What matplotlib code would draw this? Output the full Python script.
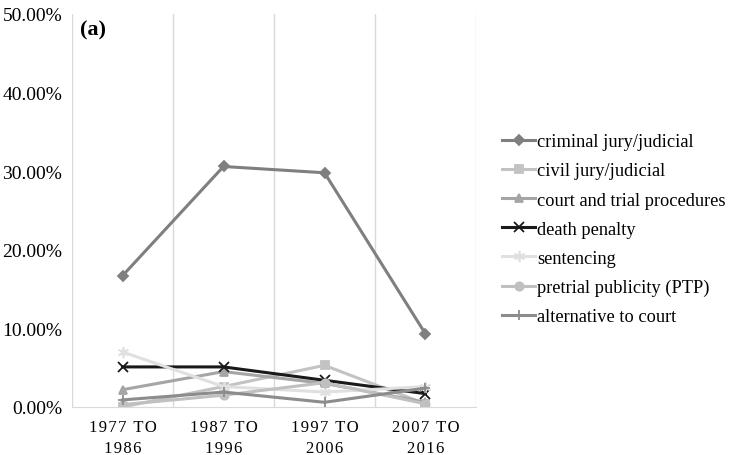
import matplotlib
matplotlib.use("Agg")
import matplotlib.pyplot as plt
from matplotlib.ticker import FuncFormatter

# Datos (porcentajes por década)
periods = ["1977 TO\n1986", "1987 TO\n1996", "1997 TO\n2006", "2007 TO\n2016"]
criminal = [16.7, 30.6, 29.8, 9.3]
civil = [0.0, 2.6, 5.3, 0.4]
court = [2.2, 4.5, 3.0, 0.6]
death = [5.1, 5.1, 3.4, 1.7]
sentencing = [7.0, 2.6, 1.9, 2.6]
ptp = [0.3, 1.5, 3.1, 0.4]
alternative = [0.9, 1.9, 0.6, 2.4]

plt.rcParams['font.family'] = ['Liberation Serif', 'DejaVu Serif']


def spaced(label):
    # espaciado entre letras como en Excel
    return "\n".join("\u200a".join(line) for line in label.split("\n"))


fig = plt.figure(figsize=(7.29, 4.56), dpi=100)
ax = fig.add_axes([72 / 729, 48 / 456, 404 / 729, 393 / 456])

x = range(len(periods))
series = [
    ("criminal jury/judicial", criminal, "#7f7f7f", "D", 5),
    ("civil jury/judicial", civil, "#c3c3c3", "s", 6),
    ("court and trial procedures", court, "#a5a5a5", "^", 6),
    ("death penalty", death, "#1a1a1a", "x", 7),
    ("sentencing", sentencing, "#e0e0e0", (6, 2, 0), 8),
    ("pretrial publicity (PTP)", ptp, "#c0c0c0", "o", 6),
    ("alternative to court", alternative, "#8c8c8c", "+", 7),
]
for name, vals, col, mk, ms in series:
    ax.plot(x, vals, color=col, lw=2.2, marker=mk, markersize=ms,
            markeredgecolor=col, markerfacecolor=col, markeredgewidth=1.3,
            label=name)

ax.set_xlim(-0.5, 3.5)
ax.set_ylim(0, 50)
ax.set_yticks([0, 10, 20, 30, 40, 50])
ax.yaxis.set_major_formatter(FuncFormatter(lambda v, p: f"{v:.2f}%"))
ax.set_xticks(list(x))
ax.set_xticklabels([spaced(p) for p in periods], fontsize=12, linespacing=1.35)
ax.tick_params(axis='y', labelsize=14, length=0, pad=7)
ax.tick_params(axis='x', length=0, pad=9)

# lineas verticales entre categorias
for b in [-0.5, 0.5, 1.5, 2.5, 3.5]:
    ax.axvline(b, color="#d9d9d9", lw=1, zorder=0)
for s in ["top", "right", "left"]:
    ax.spines[s].set_visible(False)
ax.spines["bottom"].set_color("#d9d9d9")

ax.text(0.02, 0.985, "(a)", transform=ax.transAxes, fontsize=16,
        fontweight="bold", va="top", ha="left")

fig.legend(loc="upper left", bbox_to_anchor=(495 / 729, 1 - 127 / 456),
           frameon=False, fontsize=13.2, handlelength=1.8, handletextpad=0.1,
           labelspacing=0.66, borderaxespad=0)

fig.savefig("out.png", dpi=100)
